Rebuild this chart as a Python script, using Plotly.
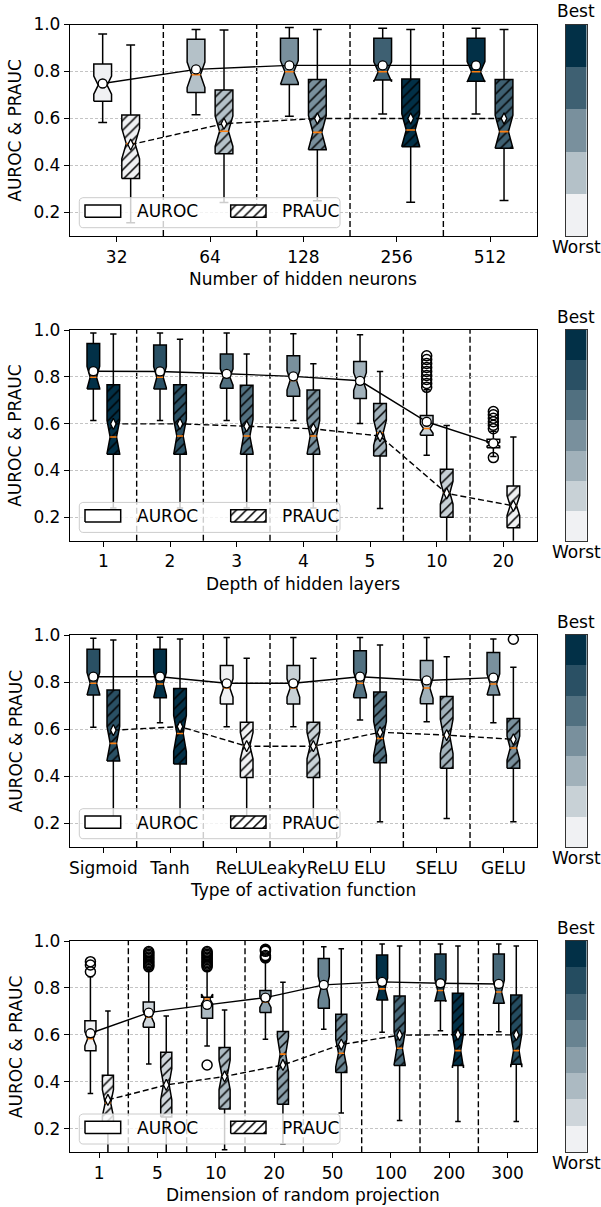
import math
import plotly.graph_objects as go

# ---------------- data ----------------
# Panel 1: number of hidden neurons
neurons_cats = ["32", "64", "128", "256", "512"]
neurons_auroc_whislo = [0.583, 0.616, 0.610, 0.619, 0.619]
neurons_auroc_q1 = [0.673, 0.711, 0.745, 0.764, 0.759]
neurons_auroc_med = [0.742, 0.786, 0.799, 0.799, 0.799]
neurons_auroc_q3 = [0.832, 0.937, 0.941, 0.941, 0.941]
neurons_auroc_whishi = [0.960, 0.979, 0.987, 0.984, 0.984]
neurons_auroc_mean = [0.749, 0.809, 0.826, 0.826, 0.826]
neurons_auroc_fliers = [[], [], [], [], []]
neurons_auroc_rank = [0, 1, 2, 3, 4]
neurons_prauc_whislo = [0.156, 0.243, 0.250, 0.244, 0.251]
neurons_prauc_q1 = [0.345, 0.450, 0.467, 0.480, 0.473]
neurons_prauc_med = [0.493, 0.546, 0.541, 0.551, 0.544]
neurons_prauc_q3 = [0.615, 0.721, 0.766, 0.768, 0.766]
neurons_prauc_whishi = [0.913, 0.977, 0.979, 0.979, 0.979]
neurons_prauc_mean = [0.489, 0.578, 0.600, 0.600, 0.600]
neurons_prauc_fliers = [[], [], [], [], []]
neurons_prauc_rank = [0, 1, 2, 4, 3]

# Panel 2: depth of hidden layers
depth_cats = ["1", "2", "3", "4", "5", "10", "20"]
depth_auroc_whislo = [0.613, 0.613, 0.613, 0.613, 0.601, 0.465, 0.460]
depth_auroc_q1 = [0.748, 0.748, 0.751, 0.717, 0.707, 0.550, 0.497]
depth_auroc_med = [0.798, 0.798, 0.799, 0.785, 0.780, 0.579, 0.512]
depth_auroc_q3 = [0.942, 0.936, 0.897, 0.890, 0.865, 0.635, 0.533]
depth_auroc_whishi = [0.987, 0.987, 0.987, 0.984, 0.980, 0.745, 0.568]
depth_auroc_mean = [0.824, 0.823, 0.813, 0.802, 0.783, 0.608, 0.516]
depth_auroc_fliers = [[], [], [], [], [],
                      [0.755, 0.772, 0.789, 0.806, 0.823, 0.840, 0.857, 0.874, 0.890],
                      [0.578, 0.593, 0.608, 0.623, 0.638, 0.652, 0.455]]
depth_auroc_rank = [6, 5, 4, 3, 2, 1, 0]
depth_prauc_whislo = [0.240, 0.240, 0.240, 0.240, 0.238, 0.050, 0.050]
depth_prauc_q1 = [0.469, 0.469, 0.469, 0.469, 0.462, 0.200, 0.155]
depth_prauc_med = [0.543, 0.547, 0.547, 0.547, 0.561, 0.305, 0.250]
depth_prauc_q3 = [0.766, 0.766, 0.764, 0.744, 0.686, 0.405, 0.334]
depth_prauc_whishi = [0.983, 0.960, 0.898, 0.856, 0.823, 0.592, 0.543]
depth_prauc_mean = [0.599, 0.599, 0.589, 0.578, 0.547, 0.302, 0.249]
depth_prauc_fliers = [[], [], [], [], [], [], []]
depth_prauc_rank = [6, 5, 4, 3, 2, 1, 0]

# Panel 3: type of activation function
act_cats = ["Sigmoid", "Tanh", "ReLU", "LeakyReLU", "ELU", "SELU", "GELU"]
act_auroc_whislo = [0.608, 0.628, 0.611, 0.611, 0.639, 0.632, 0.628]
act_auroc_q1 = [0.745, 0.734, 0.707, 0.707, 0.734, 0.708, 0.745]
act_auroc_med = [0.795, 0.792, 0.775, 0.775, 0.795, 0.775, 0.792]
act_auroc_q3 = [0.939, 0.939, 0.870, 0.870, 0.933, 0.892, 0.926]
act_auroc_whishi = [0.986, 0.990, 0.989, 0.989, 0.989, 0.989, 0.983]
act_auroc_mean = [0.823, 0.823, 0.795, 0.795, 0.823, 0.807, 0.819]
act_auroc_fliers = [[], [], [], [], [], [], []]
act_auroc_rank = [5, 6, 0, 1, 4, 2, 3]
act_prauc_whislo = [0.220, 0.220, 0.220, 0.220, 0.207, 0.221, 0.207]
act_prauc_q1 = [0.465, 0.452, 0.395, 0.395, 0.458, 0.434, 0.434]
act_prauc_med = [0.540, 0.582, 0.530, 0.530, 0.561, 0.570, 0.520]
act_prauc_q3 = [0.766, 0.773, 0.630, 0.630, 0.758, 0.739, 0.646]
act_prauc_whishi = [0.979, 0.983, 0.901, 0.901, 0.958, 0.908, 0.863]
act_prauc_mean = [0.596, 0.611, 0.528, 0.528, 0.587, 0.575, 0.557]
act_prauc_fliers = [[], [], [], [], [], [], [0.982]]
act_prauc_rank = [5, 6, 0, 1, 4, 2, 3]

# Panel 4: dimension of random projection
proj_cats = ["1", "5", "10", "20", "50", "100", "200", "300"]
proj_auroc_whislo = [0.350, 0.476, 0.553, 0.582, 0.624, 0.611, 0.618, 0.613]
proj_auroc_q1 = [0.533, 0.633, 0.671, 0.695, 0.714, 0.749, 0.745, 0.735]
proj_auroc_med = [0.584, 0.675, 0.753, 0.740, 0.800, 0.796, 0.789, 0.783]
proj_auroc_q3 = [0.660, 0.740, 0.760, 0.789, 0.925, 0.940, 0.945, 0.945]
proj_auroc_whishi = [0.848, 0.880, 0.875, 0.910, 0.976, 0.987, 0.987, 0.987]
proj_auroc_mean = [0.607, 0.695, 0.728, 0.759, 0.813, 0.826, 0.820, 0.817]
proj_auroc_fliers = [[0.869, 0.898, 0.912],
                     [0.890, 0.896, 0.902, 0.908, 0.914, 0.920, 0.926, 0.932, 0.938, 0.944, 0.950, 0.955],
                     [0.890, 0.896, 0.902, 0.908, 0.914, 0.920, 0.926, 0.932, 0.938, 0.944, 0.950, 0.955, 0.472],
                     [0.928, 0.933, 0.938, 0.956, 0.961, 0.965],
                     [], [], [], []]
proj_auroc_rank = [0, 1, 2, 3, 4, 7, 6, 5]
proj_prauc_whislo = [0.050, 0.090, 0.111, 0.135, 0.267, 0.235, 0.231, 0.231]
proj_prauc_q1 = [0.190, 0.250, 0.284, 0.305, 0.440, 0.470, 0.470, 0.475]
proj_prauc_med = [0.310, 0.390, 0.430, 0.518, 0.522, 0.543, 0.533, 0.533]
proj_prauc_q3 = [0.428, 0.526, 0.546, 0.614, 0.688, 0.766, 0.777, 0.770]
proj_prauc_whishi = [0.702, 0.681, 0.706, 0.824, 0.967, 0.979, 0.979, 0.979]
proj_prauc_mean = [0.323, 0.387, 0.423, 0.472, 0.559, 0.599, 0.601, 0.600]
proj_prauc_fliers = [[], [], [], [], [], [], [], []]
proj_prauc_rank = [0, 1, 2, 3, 4, 5, 7, 6]

panel_titles = ["Number of hidden neurons", "Depth of hidden layers",
                "Type of activation function", "Dimension of random projection"]
y_ticks = [0.2, 0.4, 0.6, 0.8, 1.0]
y_tick_labels = ["0.2", "0.4", "0.6", "0.8", "1.0"]
N_RUNS = 43  # samples per box, used for matplotlib-style notch (1.57*IQR/sqrt(n))

# ---------------- styling / geometry ----------------
W, H = 601, 1207
FONT = "DejaVu Sans"
FS = 17
AX_L, AX_R = 70.0, 536.7
CB_L, CB_R = 565.7, 586.7
PANEL_PX = [(24.5, 236.0), (330.0, 540.7), (635.0, 847.0), (941.0, 1152.3)]
Y_MIN, Y_MAX = 0.1, 1.0
OFFSET, BOX_W = 0.15, 0.19
LIGHT = (240, 241, 243)
NAVY = (2, 48, 71)
ORANGE = "#ff7f0e"


def level_colors(n):
    out = []
    for k in range(n):
        t = k / (n - 1)
        c = [round(LIGHT[i] + (NAVY[i] - LIGHT[i]) * t) for i in range(3)]
        out.append(f"rgb({c[0]},{c[1]},{c[2]})")
    return out


def mk(prefix):
    g = globals()
    d = {"cats": g[prefix + "_cats"]}
    for m in ("auroc", "prauc"):
        d[m] = {k: g[f"{prefix}_{m}_{k}"] for k in
                ("whislo", "q1", "med", "q3", "whishi", "mean", "fliers", "rank")}
    return d


panels = [mk("neurons"), mk("depth"), mk("act"), mk("proj")]

fig = go.Figure()
layout = dict(
    width=W, height=H, margin=dict(l=0, r=0, t=0, b=0),
    template="none", paper_bgcolor="white", plot_bgcolor="white",
    showlegend=False, font=dict(family=FONT, size=FS, color="black"),
)
shapes, annotations = [], []


def rounded_rect(x0, x1, y0, y1, r, n=6):
    pts = []
    corners = [(x1 - r, y0 + r, -90), (x1 - r, y1 - r, 0), (x0 + r, y1 - r, 90), (x0 + r, y0 + r, 180)]
    for cx, cy, a0 in corners:
        for j in range(n + 1):
            a = math.radians(a0 + 90 * j / n)
            pts.append((cx + r * math.cos(a), cy + r * math.sin(a)))
    pts.append(pts[0])
    return pts


for pi, P in enumerate(panels):
    idx = pi + 1
    sfx = "" if idx == 1 else str(idx)
    xa, ya = "x" + sfx, "y" + sfx
    n = len(P["cats"])
    cols = level_colors(n)
    top, bot = PANEL_PX[pi]
    hpx = bot - top
    wpx = AX_R - AX_L

    def to_data(dx, dy):
        return (-0.5 + dx / wpx * n, Y_MIN + dy / hpx * (Y_MAX - Y_MIN))

    layout["xaxis" + sfx] = dict(
        domain=[AX_L / W, AX_R / W], anchor=ya, range=[-0.5, n - 0.5],
        tickmode="array", tickvals=list(range(n)), ticktext=P["cats"], tickangle=0,
        ticks="outside", ticklen=5, tickwidth=1.2, tickcolor="black",
        showline=True, mirror=True, linecolor="black", linewidth=1.3,
        showgrid=False, zeroline=False, automargin=False,
        tickfont=dict(family=FONT, size=FS, color="black"),
    )
    layout["yaxis" + sfx] = dict(
        domain=[1 - bot / H, 1 - top / H], anchor=xa, range=[Y_MIN, Y_MAX],
        tickmode="array", tickvals=y_ticks, ticktext=y_tick_labels,
        ticks="outside", ticklen=5, tickwidth=1.2, tickcolor="black",
        showline=True, mirror=True, linecolor="black", linewidth=1.3,
        showgrid=True, gridcolor="#c4c4c4", gridwidth=0.8, griddash="3px,2px",
        zeroline=False, automargin=False,
        tickfont=dict(family=FONT, size=FS, color="black"),
    )

    # category separators
    for i in range(n - 1):
        shapes.append(dict(type="line", xref=xa, yref=ya + " domain", x0=i + 0.5, x1=i + 0.5,
                           y0=0, y1=1, layer="below",
                           line=dict(color="black", width=1.4, dash="6px,3px")))

    # boxes
    for metric, off, hatch in (("auroc", -OFFSET, False), ("prauc", OFFSET, True)):
        S = P[metric]
        wx, wy, cx, cy, mx, my, fx, fy = [], [], [], [], [], [], [], []
        box_traces = []
        for i in range(n):
            pos = i + off
            q1, med, q3 = S["q1"][i], S["med"][i], S["q3"][i]
            lo_w, hi_w = S["whislo"][i], S["whishi"][i]
            half = 1.57 * (q3 - q1) / math.sqrt(N_RUNS)
            cilo, cihi = med - half, med + half
            bl, br = pos - BOX_W / 2, pos + BOX_W / 2
            cl, cr = pos - BOX_W / 4, pos + BOX_W / 4
            wx += [pos, pos, None, pos, pos, None]
            wy += [lo_w, q1, None, q3, hi_w, None]
            cx += [cl, cr, None, cl, cr, None]
            cy += [lo_w, lo_w, None, hi_w, hi_w, None]
            mx += [cl, cr, None]
            my += [med, med, None]
            for v in S["fliers"][i]:
                fx.append(pos)
                fy.append(v)
            col = cols[S["rank"][i]]
            bx = [bl, br, br, cr, br, br, bl, bl, cl, bl, bl]
            by = [q1, q1, cilo, med, cihi, q3, q3, cihi, med, cilo, q1]
            tr = dict(x=bx, y=by, mode="lines", fill="toself", fillcolor=col,
                      line=dict(color="black", width=1.5), hoverinfo="skip",
                      xaxis=xa, yaxis=ya)
            if hatch:
                tr["fillpattern"] = dict(shape="/", fgcolor="black", bgcolor=col,
                                         size=7, solidity=0.22)
            box_traces.append(tr)
        fig.add_trace(go.Scatter(x=wx, y=wy, mode="lines", line=dict(color="black", width=1.5),
                                 hoverinfo="skip", xaxis=xa, yaxis=ya))
        fig.add_trace(go.Scatter(x=cx, y=cy, mode="lines", line=dict(color="black", width=1.5),
                                 hoverinfo="skip", xaxis=xa, yaxis=ya))
        for tr in box_traces:
            fig.add_trace(go.Scatter(**tr))
        fig.add_trace(go.Scatter(x=mx, y=my, mode="lines", line=dict(color=ORANGE, width=1.6),
                                 hoverinfo="skip", xaxis=xa, yaxis=ya))
        if fx:
            fig.add_trace(go.Scatter(x=fx, y=fy, mode="markers",
                                     marker=dict(symbol="circle-open", size=10, color="black",
                                                 line=dict(width=1.5, color="black")),
                                     hoverinfo="skip", xaxis=xa, yaxis=ya))

    # mean lines
    xs_a = [i - OFFSET for i in range(n)]
    xs_p = [i + OFFSET for i in range(n)]
    fig.add_trace(go.Scatter(x=xs_a, y=P["auroc"]["mean"], mode="lines+markers",
                             line=dict(color="black", width=1.4),
                             marker=dict(symbol="circle", size=9, color="white",
                                         line=dict(color="black", width=1.3)),
                             hoverinfo="skip", xaxis=xa, yaxis=ya))
    fig.add_trace(go.Scatter(x=xs_p, y=P["prauc"]["mean"], mode="lines+markers",
                             line=dict(color="black", width=1.4, dash="6px,3px"),
                             marker=dict(symbol="diamond-tall", size=8, color="white",
                                         line=dict(color="black", width=1.3)),
                             hoverinfo="skip", xaxis=xa, yaxis=ya))

    # legend (drawn inside the axes, lower left)
    rr = rounded_rect(9.3, 270.0, 8.3, 38.3, 3.5)
    pts = [to_data(a, b) for a, b in rr]
    fig.add_trace(go.Scatter(x=[p[0] for p in pts], y=[p[1] for p in pts], mode="lines",
                             fill="toself", fillcolor="rgba(255,255,255,0.8)",
                             line=dict(color="#cccccc", width=1), hoverinfo="skip",
                             xaxis=xa, yaxis=ya))
    for (dx0, dx1), hatch in (((15.0, 50.7), False), ((160.7, 196.0), True)):
        corners = [to_data(dx0, 18.7), to_data(dx1, 18.7), to_data(dx1, 31.0),
                   to_data(dx0, 31.0), to_data(dx0, 18.7)]
        tr = dict(x=[c[0] for c in corners], y=[c[1] for c in corners], mode="lines",
                  fill="toself", fillcolor="white", line=dict(color="black", width=1.5),
                  hoverinfo="skip", xaxis=xa, yaxis=ya)
        if hatch:
            tr["fillpattern"] = dict(shape="/", fgcolor="black", bgcolor="white",
                                     size=7, solidity=0.22)
        fig.add_trace(go.Scatter(**tr))
    for dx, label in ((65.0, "AUROC"), (210.0, "PRAUC")):
        lx, ly = to_data(dx, 24.5)
        annotations.append(dict(x=lx, y=ly, xref=xa, yref=ya, text=label, showarrow=False,
                                xanchor="left", yanchor="middle",
                                font=dict(family=FONT, size=FS, color="black")))

    # axis titles
    annotations.append(dict(x=(AX_L + AX_R) / 2 / W, y=1 - (bot + 43) / H, xref="paper", yref="paper",
                            text=panel_titles[pi], showarrow=False, xanchor="center", yanchor="middle",
                            font=dict(family=FONT, size=FS, color="black")))
    annotations.append(dict(x=15.5 / W, y=1 - (top + bot) / 2 / H, xref="paper", yref="paper",
                            text="AUROC & PRAUC", textangle=-90, showarrow=False,
                            xanchor="center", yanchor="middle",
                            font=dict(family=FONT, size=FS, color="black")))

    # colour bar
    cidx = idx + 4
    cxa, cya = "x" + str(cidx), "y" + str(cidx)
    cscale = []
    for k, c in enumerate(cols):
        cscale += [[k / n, c], [(k + 1) / n, c]]
    fig.add_trace(go.Heatmap(z=[[k] for k in range(n)], x=[0], y=list(range(n)),
                             colorscale=cscale, zmin=-0.5, zmax=n - 0.5, showscale=False,
                             hoverinfo="skip", xaxis=cxa, yaxis=cya))
    layout["xaxis" + str(cidx)] = dict(domain=[CB_L / W, CB_R / W], anchor=cya, range=[-0.5, 0.5],
                                       showticklabels=False, ticks="", showgrid=False, zeroline=False,
                                       showline=True, mirror=True, linecolor="#333333", linewidth=1)
    layout["yaxis" + str(cidx)] = dict(domain=[1 - bot / H, 1 - top / H], anchor=cxa,
                                       range=[-0.5, n - 0.5], showticklabels=False, ticks="",
                                       showgrid=False, zeroline=False,
                                       showline=True, mirror=True, linecolor="#333333", linewidth=1)
    annotations.append(dict(x=(CB_L + CB_R) / 2 / W, y=1 - (top - 13) / H, xref="paper", yref="paper",
                            text="Best", showarrow=False, xanchor="center", yanchor="middle",
                            font=dict(family=FONT, size=FS, color="black")))
    annotations.append(dict(x=(CB_L + CB_R) / 2 / W, y=1 - (bot + 11) / H, xref="paper", yref="paper",
                            text="Worst", showarrow=False, xanchor="center", yanchor="middle",
                            font=dict(family=FONT, size=FS, color="black")))

layout["shapes"] = shapes
layout["annotations"] = annotations
fig.update_layout(**layout)
fig.write_html("out.html", config={"displayModeBar": False},
               post_script="document.body.style.margin='0';")
